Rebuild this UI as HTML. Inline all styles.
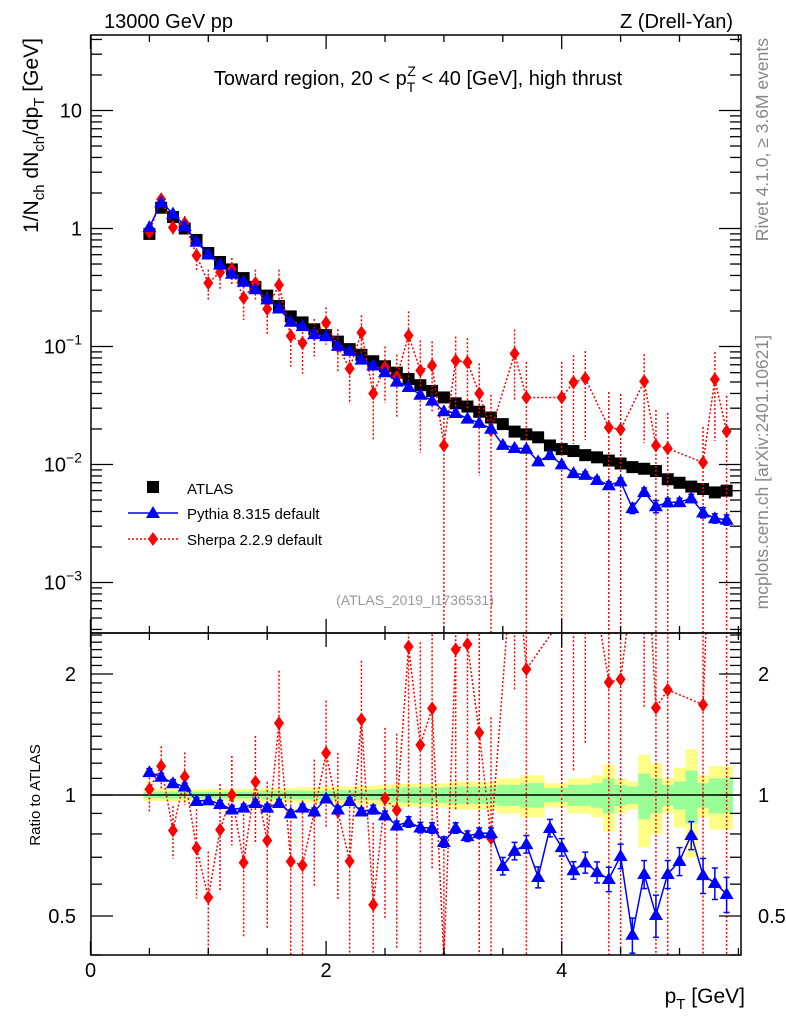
<!DOCTYPE html>
<html><head><meta charset="utf-8"><style>
html,body{margin:0;padding:0;background:#fff;overflow:hidden;width:786px;height:1024px;}
svg{display:block;font-family:"Liberation Sans",sans-serif;}
</style></head><body>
<svg id="chart" width="786" height="1024" viewBox="0 0 786 1024" xmlns="http://www.w3.org/2000/svg">
<defs>
<clipPath id="clipMain"><rect x="91" y="35" width="650" height="598"/></clipPath>
<clipPath id="clipRatio"><rect x="91" y="633" width="650" height="322"/></clipPath>
</defs>
<rect x="0" y="0" width="786" height="1024" fill="#fff"/>
<g id="bands" clip-path="url(#clipRatio)"></g>
<g id="mainMarks" clip-path="url(#clipMain)"></g>
<g id="ratioMarks" clip-path="url(#clipRatio)"></g>
<g id="axes"></g>
<rect x="91" y="35" width="650" height="598" fill="none" stroke="#000" stroke-width="1.5"/>
<rect x="91" y="633" width="650" height="322" fill="none" stroke="#000" stroke-width="1.5"/>
<text x="104" y="28" font-size="20">13000 GeV pp</text>
<text x="733" y="28" font-size="20" text-anchor="end">Z (Drell-Yan)</text>
<text x="418" y="85" font-size="20" text-anchor="middle">Toward region, 20 &lt; p<tspan font-size="14" dy="7">T</tspan><tspan font-size="14" dx="-8" dy="-16">Z</tspan><tspan dy="9"> &lt; 40 [GeV], high thrust</tspan></text>
<text x="415" y="605" font-size="14" fill="#999" text-anchor="middle">(ATLAS_2019_I1736531)</text>
<text transform="translate(768,38) rotate(-90)" font-size="17.5" fill="#888" text-anchor="end">Rivet 4.1.0, ≥ 3.6M events</text>
<text transform="translate(768,335) rotate(-90)" font-size="17.5" fill="#888" text-anchor="end">mcplots.cern.ch [arXiv:2401.10621]</text>
<text transform="translate(38,38) rotate(-90)" font-size="21" text-anchor="end">1/N<tspan font-size="15" dy="6">ch</tspan><tspan dy="-6"> dN</tspan><tspan font-size="15" dy="6">ch</tspan><tspan dy="-6">/dp</tspan><tspan font-size="15" dy="6">T</tspan><tspan dy="-6"> [GeV]</tspan></text>
<text transform="translate(40,795) rotate(-90)" font-size="15" text-anchor="middle">Ratio to ATLAS</text>
<text x="745" y="1003" font-size="21" text-anchor="end">p<tspan font-size="15" dy="6">T</tspan><tspan dy="-6"> [GeV]</tspan></text>
<g>
<rect x="147" y="481" width="12" height="12" fill="#000"/>
<text x="187" y="494" font-size="15">ATLAS</text>
<line x1="128" y1="513" x2="178" y2="513" stroke="#00f" stroke-width="1.5"/>
<polygon points="153,506 160,518 146,518" fill="#00f"/>
<text x="187" y="519" font-size="15">Pythia 8.315 default</text>
<line x1="128" y1="539" x2="178" y2="539" stroke="#f00" stroke-width="1.5" stroke-dasharray="2,2"/>
<polygon points="153,532 158,539 153,546 148,539" fill="#f00"/>
<text x="187" y="545" font-size="15">Sherpa 2.2.9 default</text>
</g>
</svg>
<script>
const xs = [0.5,0.6,0.7,0.8,0.9,1.0,1.1,1.2,1.3,1.4,1.5,1.6,1.7,1.8,1.9,2.0,2.1,2.2,2.3,2.4,2.5,2.6,2.7,2.8,2.9,3.0,3.1,3.2,3.3,3.4,3.5,3.6,3.7,3.8,3.9,4.0,4.1,4.2,4.3,4.4,4.5,4.6,4.7,4.8,4.9,5.0,5.1,5.2,5.3,5.4];
const atlas = [0.9,1.5,1.25,1.0,0.8,0.62,0.52,0.45,0.38,0.32,0.27,0.22,0.18,0.16,0.14,0.125,0.11,0.095,0.085,0.075,0.068,0.06,0.053,0.047,0.042,0.037,0.033,0.031,0.028,0.025,0.022,0.019,0.018,0.017,0.0145,0.0135,0.013,0.012,0.0115,0.0108,0.0102,0.0095,0.0092,0.0088,0.0075,0.007,0.0065,0.0062,0.0058,0.006];
const pythiaRatio = [1.14,1.11,1.07,1.05,0.966,0.97,0.95,0.92,0.93,0.955,0.93,0.955,0.90,0.93,0.91,0.98,0.92,0.966,0.91,0.92,0.89,0.84,0.857,0.83,0.828,0.764,0.828,0.79,0.804,0.804,0.666,0.726,0.755,0.625,0.828,0.742,0.65,0.68,0.643,0.618,0.705,0.449,0.636,0.503,0.636,0.685,0.795,0.632,0.604,0.567];
const pythiaErr = [0.02,0.02,0.02,0.02,0.02,0.02,0.02,0.02,0.02,0.02,0.02,0.02,0.02,0.02,0.02,0.02,0.02,0.02,0.02,0.025,0.025,0.025,0.03,0.03,0.03,0.03,0.03,0.03,0.03,0.03,0.05,0.05,0.05,0.06,0.05,0.05,0.05,0.06,0.06,0.07,0.07,0.1,0.08,0.12,0.08,0.08,0.08,0.1,0.09,0.1];
const sherpa = [0.93,1.77,1.02,1.11,0.59,0.345,0.426,0.45,0.258,0.345,0.208,0.332,0.123,0.107,0.127,0.159,0.10,0.065,0.131,0.040,0.0666,0.055,0.124,0.0626,0.069,0.0145,0.076,0.0735,0.040,0.0195,null,0.087,0.037,null,null,0.037,0.0497,0.0537,null,0.0206,0.0198,null,0.0506,0.0145,0.0137,null,null,0.0104,0.0527,0.0191];
const sherpaErr = [0.12,0.12,0.15,0.15,0.25,0.3,0.3,0.25,0.35,0.3,0.4,0.35,0.45,0.45,0.35,0.35,0.4,0.5,0.4,0.6,0.5,0.55,0.6,0.8,0.6,1,0.6,0.6,0.8,1,null,0.6,1,null,null,1,0.7,0.7,null,1,1,null,0.7,1,1,null,null,1,0.7,1];
const bandGreen = [0.02,0.02,0.02,0.02,0.02,0.02,0.02,0.02,0.02,0.02,0.025,0.025,0.025,0.025,0.025,0.025,0.03,0.03,0.03,0.03,0.035,0.04,0.045,0.045,0.045,0.045,0.05,0.05,0.05,0.05,0.06,0.06,0.07,0.07,0.04,0.04,0.06,0.06,0.07,0.1,0.06,0.05,0.13,0.1,0.06,0.08,0.15,0.07,0.1,0.1];
const bandYellow = [0.035,0.035,0.035,0.035,0.035,0.035,0.035,0.035,0.035,0.035,0.04,0.04,0.04,0.045,0.045,0.05,0.05,0.05,0.055,0.055,0.06,0.065,0.065,0.065,0.065,0.07,0.08,0.08,0.08,0.08,0.1,0.1,0.12,0.12,0.07,0.07,0.1,0.1,0.12,0.19,0.1,0.08,0.26,0.2,0.1,0.17,0.3,0.12,0.18,0.18];
const xTicksMajor = [0,2,4];
const yMainLabels = ["10","1","10^-1","10^-2","10^-3"];
const yMainDecades = [1,0,-1,-2,-3];
const ratioLabels = ["2","1","0.5"];
const ratioLabelVals = [2,1,0.5];

const NS = "http://www.w3.org/2000/svg";
const RB = 955;
function X(v){return 90.5 + v*117.8;}
function YM(v){return 228.5 - 118*Math.log10(v);}
function YR(v){return 795 - 402*Math.log10(v);}
function mk(tag, attrs, parent){const e=document.createElementNS(NS,tag);for(const k in attrs)e.setAttribute(k,attrs[k]);parent.appendChild(e);return e;}
const gM=document.getElementById('mainMarks'), gR=document.getElementById('ratioMarks'), gB=document.getElementById('bands'), gA=document.getElementById('axes');

xs.forEach((x,i)=>{
  let r=mk('rect',{x:X(x-0.05),y:YR(1+bandYellow[i]),width:X(x+0.05)-X(x-0.05)+0.5,height:YR(1-bandYellow[i])-YR(1+bandYellow[i]),fill:'#ffff88'},gB);
  
  
  let g=mk('rect',{x:X(x-0.05),y:YR(1+bandGreen[i]),width:X(x+0.05)-X(x-0.05)+0.5,height:YR(1-bandGreen[i])-YR(1+bandGreen[i]),fill:'#99ff99'},gB);
  
  
});
mk('line',{x1:91,y1:YR(1),x2:741,y2:YR(1),stroke:'#000','stroke-width':1.5},gR);

function sherpaSeries(parent, yf, isRatio, bottom){
  let pts=[];
  xs.forEach((x,i)=>{ if(sherpa[i]!==null){ const v=isRatio?sherpa[i]/atlas[i]:sherpa[i]; pts.push([X(x),yf(v),v,i]); }});
  const pl=mk('polyline',{points:pts.map(p=>p[0]+','+p[1]).join(' '),fill:'none',stroke:'#f00','stroke-width':1.5,'stroke-dasharray':'2,2'},parent);
  
  
  pts.forEach(p=>{
    const e=sherpaErr[p[3]], v=p[2];
    const lo=v*(1-e)>0?Math.min(yf(v*(1-e)),bottom):bottom;
    mk('line',{x1:p[0],y1:yf(v*(1+e)),x2:p[0],y2:lo,stroke:'#f00','stroke-width':1.5,'stroke-dasharray':'2,2'},parent);
    const d=mk('polygon',{points:`${p[0]},${p[1]-7} ${p[0]+5},${p[1]} ${p[0]},${p[1]+7} ${p[0]-5},${p[1]}`,fill:'#f00'},parent);
    
    
  });
}
function pythiaSeries(parent, yf, isRatio){
  let pts=xs.map((x,i)=>{const v=isRatio?pythiaRatio[i]:pythiaRatio[i]*atlas[i];return [X(x),yf(v),v,i];});
  const pl=mk('polyline',{points:pts.map(p=>p[0]+','+p[1]).join(' '),fill:'none',stroke:'#00f','stroke-width':1.5},parent);
  
  
  pts.forEach(p=>{
    const e=pythiaErr[p[3]], v=p[2];
    const y1=yf(v*(1+e)), y2=yf(v*(1-e));
    mk('line',{x1:p[0],y1:y1,x2:p[0],y2:y2,stroke:'#00f','stroke-width':1.5},parent);
    mk('line',{x1:p[0]-3,y1:y1,x2:p[0]+3,y2:y1,stroke:'#00f','stroke-width':1.5},parent);
    mk('line',{x1:p[0]-3,y1:y2,x2:p[0]+3,y2:y2,stroke:'#00f','stroke-width':1.5},parent);
    const t=mk('polygon',{points:`${p[0]},${p[1]-7} ${p[0]+7},${p[1]+5} ${p[0]-7},${p[1]+5}`,fill:'#00f'},parent);
    
    
  });
}
xs.forEach((x,i)=>{
  const s=mk('rect',{x:X(x)-6,y:YM(atlas[i])-6,width:12,height:12,fill:'#000'},gM);
  
  
});
sherpaSeries(gM,YM,false,633);
pythiaSeries(gM,YM,false);
sherpaSeries(gR,YR,true,RB);
pythiaSeries(gR,YR,true);

function line(x1,y1,x2,y2){mk('line',{x1,y1,x2,y2,stroke:'#000','stroke-width':1.3},gA);}
for(let k=0; k<=11; k++){
  const v=k*0.5;
  const major=xTicksMajor.some(m=>Math.abs(m-v)<1e-6), L=major?14:7;
  const x=X(v);
  line(x,RB,x,RB-L); line(x,633,x,633-L); line(x,633,x,633+L); line(x,35,x,35+L);
}
xTicksMajor.forEach(v=>{
  const t=mk('text',{x:X(v),y:977,'font-size':20,'text-anchor':'middle'},gA);
  t.textContent=String(v);
  
  
});
for(let d=-4; d<=1; d++){
  for(let m=1;m<10;m++){
    const v=m*Math.pow(10,d), y=YM(v);
    if(y<35||y>633) continue;
    const L=m===1?22:11;
    line(91,y,91+L,y); line(741,y,741-L,y);
  }
}
yMainDecades.forEach((d,i)=>{
  const y=YM(Math.pow(10,d))+7, lab=yMainLabels[i];
  const t=mk('text',{x:82,y:y,'font-size':20,'text-anchor':'end'},gA);
  
  
  if(lab.indexOf('^')>=0){
    const parts=lab.split('^');
    t.textContent=parts[0];
    const s=mk('tspan',{'font-size':14,dy:-9},t); s.textContent=parts[1].replace('-','\u2212');
  } else t.textContent=lab;
});
const rt=[0.4,0.5,0.6,0.7,0.8,0.9,1,1.1,1.2,1.3,1.4,1.5,1.6,1.7,1.8,1.9,2,2.1,2.2,2.3,2.4,2.5];
rt.forEach(v=>{
  const y=YR(v); if(y<633||y>RB) return;
  const L=(v===0.5||v===1||v===2)?22:11;
  line(91,y,91+L,y); line(741,y,741-L,y);
});
ratioLabelVals.forEach((v,i)=>{
  const t=mk('text',{x:758,y:YR(v)+7,'font-size':20},gA);
  t.textContent=ratioLabels[i];
  
  
  const t2=mk('text',{x:76,y:YR(v)+7,'font-size':20,'text-anchor':'end'},gA);
  t2.textContent=ratioLabels[i];
  
  
});
</script>
</body></html>
